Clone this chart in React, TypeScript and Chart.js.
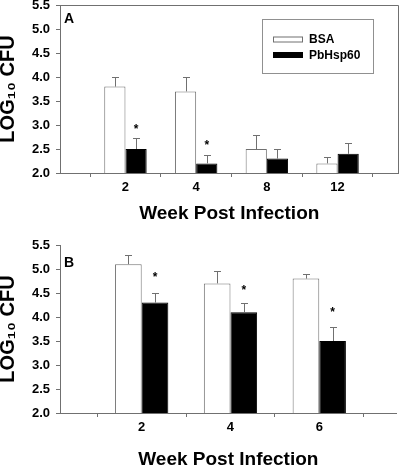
import React, { useEffect, useRef } from "react";
import { Chart, registerables } from "chart.js";

Chart.register(...registerables);

// ---------- data ----------
const seriesNames = ["BSA", "PbHsp60"];
const axisTitleX = "Week Post Infection";
const axisTitleY = "LOG\u2081\u2080 CFU";
const yTicks = [2.0, 2.5, 3.0, 3.5, 4.0, 4.5, 5.0, 5.5];

const weeksA = ["2", "4", "8", "12"];
const bsaA = [3.8, 3.7, 2.5, 2.2];
const bsaErrA = [0.2, 0.3, 0.3, 0.14];
const hspA = [2.5, 2.2, 2.3, 2.4];
const hspErrA = [0.22, 0.18, 0.2, 0.23];
const starsA: (number | null)[] = [2.97, 2.65, null, null];

const weeksB = ["2", "4", "6"];
const bsaB = [5.1, 4.7, 4.8];
const bsaErrB = [0.2, 0.25, 0.1];
const hspB = [4.3, 4.1, 3.5];
const hspErrB = [0.2, 0.2, 0.3];
const starsB: (number | null)[] = [4.9, 4.62, 4.17];

// ---------- style ----------
const FONT = "'Liberation Sans', Arial, Helvetica, sans-serif";
const AXIS = "#707070";

type PanelCfg = {
  letter: string;
  labels: string[];
  bsa: number[];
  bsaErr: number[];
  hsp: number[];
  hspErr: number[];
  stars: (number | null)[];
  xMin: number;
  xMax: number;
  top: number;
  height: number;
  padTop: number;
  padRight: number;
  xAxisH: number;
  yTitlePad: number;
  letterBase: number;
  frame: boolean;
  legend: boolean;
};

function Panel({ cfg }: { cfg: PanelCfg }) {
  const ref = useRef<HTMLCanvasElement | null>(null);
  useEffect(() => {
    if (!ref.current) return;
    const errs = [cfg.bsaErr, cfg.hspErr];
    const decor = {
      id: "decor",
      afterDatasetsDraw(chart: any) {
        const { ctx, chartArea: ca } = chart;
        const y = chart.scales.y;
        ctx.save();
        // error bars
        errs.forEach((errArr, di) => {
          const meta = chart.getDatasetMeta(di);
          meta.data.forEach((bar: any, i: number) => {
            const v = (chart.data.datasets[di].data[i] as any).y;
            const yt = Math.round(y.getPixelForValue(v + errArr[i])) + 0.5;
            const x = Math.round(bar.x) + 0.5;
            ctx.strokeStyle = AXIS;
            ctx.lineWidth = 1;
            ctx.beginPath();
            ctx.moveTo(x, bar.y);
            ctx.lineTo(x, yt);
            ctx.moveTo(x - 3.5, yt);
            ctx.lineTo(x + 3.5, yt);
            ctx.stroke();
          });
        });
        // significance stars
        const hm = chart.getDatasetMeta(1);
        ctx.fillStyle = "#000";
        ctx.font = `bold 12px ${FONT}`;
        ctx.textAlign = "center";
        ctx.textBaseline = "alphabetic";
        cfg.stars.forEach((s, i) => {
          if (s == null) return;
          ctx.fillText("*", hm.data[i].x, y.getPixelForValue(s) + 7);
        });
        // frame
        if (cfg.frame) {
          ctx.strokeStyle = AXIS;
          ctx.lineWidth = 1;
          ctx.beginPath();
          const t = Math.round(ca.top) + 0.5;
          const r = Math.round(ca.right) - 0.5;
          ctx.moveTo(ca.left, t);
          ctx.lineTo(r, t);
          ctx.lineTo(r, ca.bottom);
          ctx.stroke();
        }
        // panel letter
        ctx.font = `bold 14px ${FONT}`;
        ctx.textAlign = "left";
        ctx.fillText(cfg.letter, ca.left + 4, ca.top + cfg.letterBase);
        // legend
        if (cfg.legend) {
          const lx = Math.round(ca.left + 202) + 0.5;
          const ly = Math.round(ca.top + 14) + 0.5;
          ctx.fillStyle = "#fff";
          ctx.fillRect(lx, ly, 111, 54);
          ctx.strokeStyle = "#909090";
          ctx.strokeRect(lx, ly, 111, 54);
          const ds = chart.data.datasets;
          const rows = [ly + 17.5, ly + 33];
          ds.forEach((d: any, i: number) => {
            const sy = rows[i];
            ctx.fillStyle = d.backgroundColor;
            ctx.fillRect(lx + 11, sy, 29, 5);
            ctx.strokeStyle = d.borderColor;
            ctx.strokeRect(lx + 11, sy, 29, 5);
            ctx.fillStyle = "#000";
            ctx.font = `bold 12px ${FONT}`;
            ctx.textBaseline = "middle";
            ctx.fillText(d.label, lx + 46.5, sy + 3);
          });
        }
        ctx.restore();
      },
    };

    const tickFont = { family: FONT, size: 13, weight: "bold" as const };
    const chart = new Chart(ref.current, {
      type: "bar",
      data: {
        datasets: [
          {
            label: seriesNames[0],
            data: cfg.bsa.map((v, i) => ({ x: i, y: v })),
            backgroundColor: "#ffffff",
            borderColor: AXIS,
            borderWidth: 1,
            categoryPercentage: 0.6,
            barPercentage: 1,
          },
          {
            label: seriesNames[1],
            data: cfg.hsp.map((v, i) => ({ x: i, y: v })),
            backgroundColor: "#000000",
            borderColor: "#000000",
            borderWidth: 1,
            categoryPercentage: 0.6,
            barPercentage: 1,
          },
        ] as any,
      },
      options: {
        responsive: false,
        animation: false,
        layout: { padding: { top: cfg.padTop, right: cfg.padRight, left: 0, bottom: 0 } },
        plugins: { legend: { display: false }, tooltip: { enabled: false } },
        scales: {
          x: {
            type: "linear",
            min: cfg.xMin,
            max: cfg.xMax,
            offset: false,
            grid: { drawOnChartArea: false, drawTicks: true, tickLength: 4, color: AXIS },
            border: { display: true, color: AXIS, width: 1 },
            ticks: {
              font: tickFont,
              color: "#000",
              padding: 3,
              autoSkip: false,
              maxRotation: 0,
              callback: (v: any) => cfg.labels[v] ?? "",
            },
            afterBuildTicks: (s: any) => {
              s.ticks = cfg.labels.map((_, i) => ({ value: i }));
            },
            afterFit: (s: any) => {
              s.height = cfg.xAxisH;
              s.paddingLeft = 0;
              s.paddingRight = 0;
            },
            title: {
              display: true,
              text: axisTitleX,
              color: "#000",
              font: { family: FONT, size: 19, weight: "bold" },
              padding: { top: 0, bottom: 0 },
            },
          },
          y: {
            type: "linear",
            min: yTicks[0],
            max: yTicks[yTicks.length - 1],
            grid: { drawOnChartArea: false, drawTicks: true, tickLength: 4, color: AXIS },
            border: { display: true, color: AXIS, width: 1 },
            ticks: {
              font: tickFont,
              color: "#000",
              padding: 6,
              callback: (v: any) => Number(v).toFixed(1),
            },
            afterBuildTicks: (s: any) => {
              s.ticks = yTicks.map((v) => ({ value: v }));
            },
            afterFit: (s: any) => {
              s.width = 60;
              s.paddingTop = 0;
              s.paddingBottom = 0;
            },
            title: {
              display: true,
              text: axisTitleY,
              color: "#000",
              font: { family: FONT, size: 20, weight: "bold", lineHeight: 1 },
              padding: { top: cfg.yTitlePad, bottom: 0 },
            },
          },
        },
      } as any,
      plugins: [decor as any],
    });
    return () => chart.destroy();
  }, [cfg]);

  return (
    <canvas
      ref={ref}
      width={400}
      height={cfg.height}
      style={{ position: "absolute", left: 0, top: cfg.top, width: 400, height: cfg.height, display: "block" }}
    />
  );
}

const panelA: PanelCfg = {
  letter: "A",
  labels: weeksA,
  bsa: bsaA,
  bsaErr: bsaErrA,
  hsp: hspA,
  hspErr: hspErrA,
  stars: starsA,
  xMin: -0.926,
  xMax: 3.862,
  top: 0,
  height: 225,
  padTop: 5,
  padRight: 1.5,
  xAxisH: 52,
  yTitlePad: -1.5,
  letterBase: 17.7,
  frame: true,
  legend: true,
};

const panelB: PanelCfg = {
  letter: "B",
  labels: weeksB,
  bsa: bsaB,
  bsaErr: bsaErrB,
  hsp: hspB,
  hspErr: hspErrB,
  stars: starsB,
  xMin: -0.92,
  xMax: 2.872,
  top: 232,
  height: 239,
  padTop: 13,
  padRight: 3.3,
  xAxisH: 58,
  yTitlePad: -1.5,
  letterBase: 21.7,
  frame: false,
  legend: false,
};

export default function App() {
  return (
    <div
      style={{
        position: "fixed",
        left: 0,
        top: 0,
        width: 400,
        height: 468,
        overflow: "hidden",
        background: "#fff",
      }}
    >
      <Panel cfg={panelA} />
      <Panel cfg={panelB} />
    </div>
  );
}
